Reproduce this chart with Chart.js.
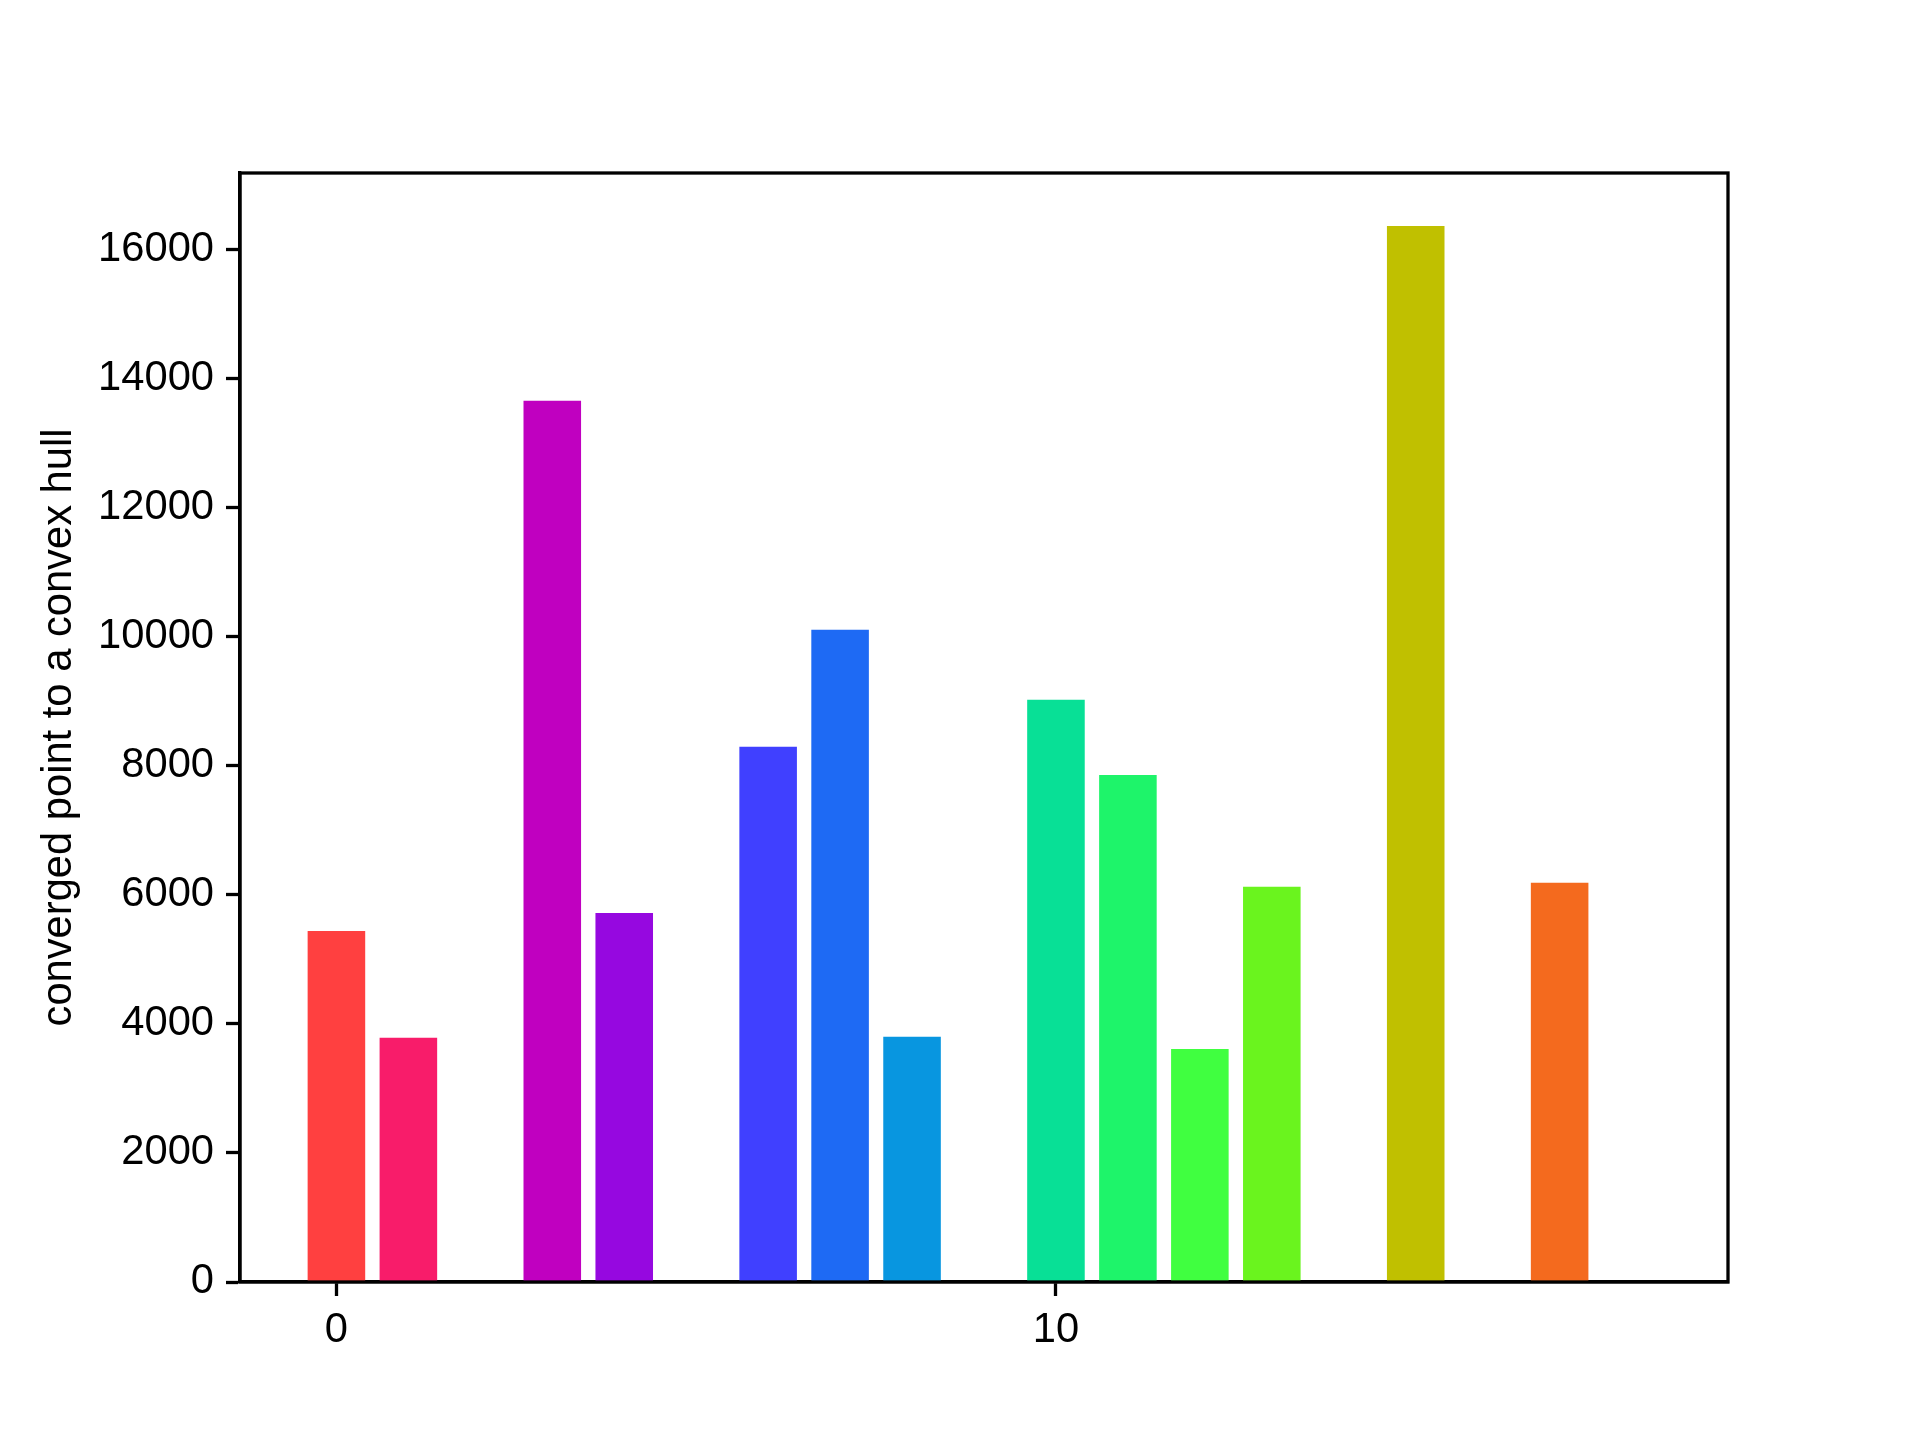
<!DOCTYPE html>
<html>
<head>
<meta charset="utf-8">
<script src="https://cdn.jsdelivr.net/npm/chart.js@4.4.1/dist/chart.umd.min.js"></script>
<style>
  body { margin: 0; background: #fff; }
  canvas { display: block; }
</style>
</head>
<body>
<canvas id="myChart" width="1920" height="1440"></canvas>
<script>
// bar positions (index) and heights
const xValues = [0, 1, 2, 3, 4, 5, 6, 7, 8, 9, 10, 11, 12, 13, 14, 15, 16, 17, 18];
const hullValues = [5440, 3785, 0, 13660, 5720, 0, 8295, 10110, 3800, 0, 9025, 7860, 3612, 6125, 0, 16370, 0, 6188, 0];
const barColors = [
  "#ff4040", "#f81c6a", "#e00896", "#c000c0", "#9608e0", "#6a1ef4", "#4040ff", "#1e6af4", "#0896e0", "#00c0c0",
  "#08e096", "#1ef46a", "#40ff40", "#6af41e", "#96e008", "#c0c000", "#e09608", "#f46a1e", "#ff4040"
];
const xTicks = [0, 10];
const yTicks = [0, 2000, 4000, 6000, 8000, 10000, 12000, 14000, 16000];

const FONT = "'Liberation Sans', Arial, sans-serif";
const FS = 41.7;
const LW = 3.3;

const framePlugin = {
  id: "frame",
  afterDraw(chart) {
    const { ctx, chartArea } = chart;
    ctx.save();
    ctx.strokeStyle = "#000";
    ctx.lineWidth = LW;
    ctx.strokeRect(chartArea.left, chartArea.top, chartArea.right - chartArea.left, chartArea.bottom - chartArea.top);
    ctx.restore();
  }
};

new Chart("myChart", {
  type: "bar",
  data: {
    datasets: [{
      data: xValues.map((x, i) => ({ x: x, y: hullValues[i] })),
      backgroundColor: barColors,
      borderWidth: 0,
      barPercentage: 0.8,
      categoryPercentage: 1.0
    }]
  },
  plugins: [framePlugin],
  options: {
    responsive: false,
    animation: false,
    layout: { padding: { left: 0, right: 192, top: 173, bottom: 0 } },
    plugins: {
      legend: { display: false },
      tooltip: { enabled: false }
    },
    scales: {
      x: {
        type: "linear",
        offset: false,
        min: -1.34,
        max: 19.34,
        afterBuildTicks: scale => { scale.ticks = xTicks.map(v => ({ value: v })); },
        afterFit: scale => { scale.height = 158; },
        border: { display: true, color: "#000", width: LW },
        grid: { offset: false, drawOnChartArea: false, drawTicks: true, tickLength: 14, tickWidth: LW, tickColor: "#000" },
        ticks: { color: "#000", padding: 9, maxRotation: 0, font: { family: FONT, size: FS } }
      },
      y: {
        min: 0,
        max: 17190,
        afterBuildTicks: scale => { scale.ticks = yTicks.map(v => ({ value: v })); },
        afterFit: scale => { scale.width = 240; },
        border: { display: true, color: "#000", width: LW },
        grid: { drawOnChartArea: false, drawTicks: true, tickLength: 14, tickWidth: LW, tickColor: "#000" },
        ticks: { color: "#000", padding: 12, font: { family: FONT, size: FS }, callback: v => String(v) },
        title: {
          display: true,
          text: "converged point to a convex hull",
          color: "#000",
          padding: { top: 34, bottom: 0 },
          font: { family: FONT, size: FS, weight: "normal" }
        }
      }
    }
  }
});
</script>
</body>
</html>
